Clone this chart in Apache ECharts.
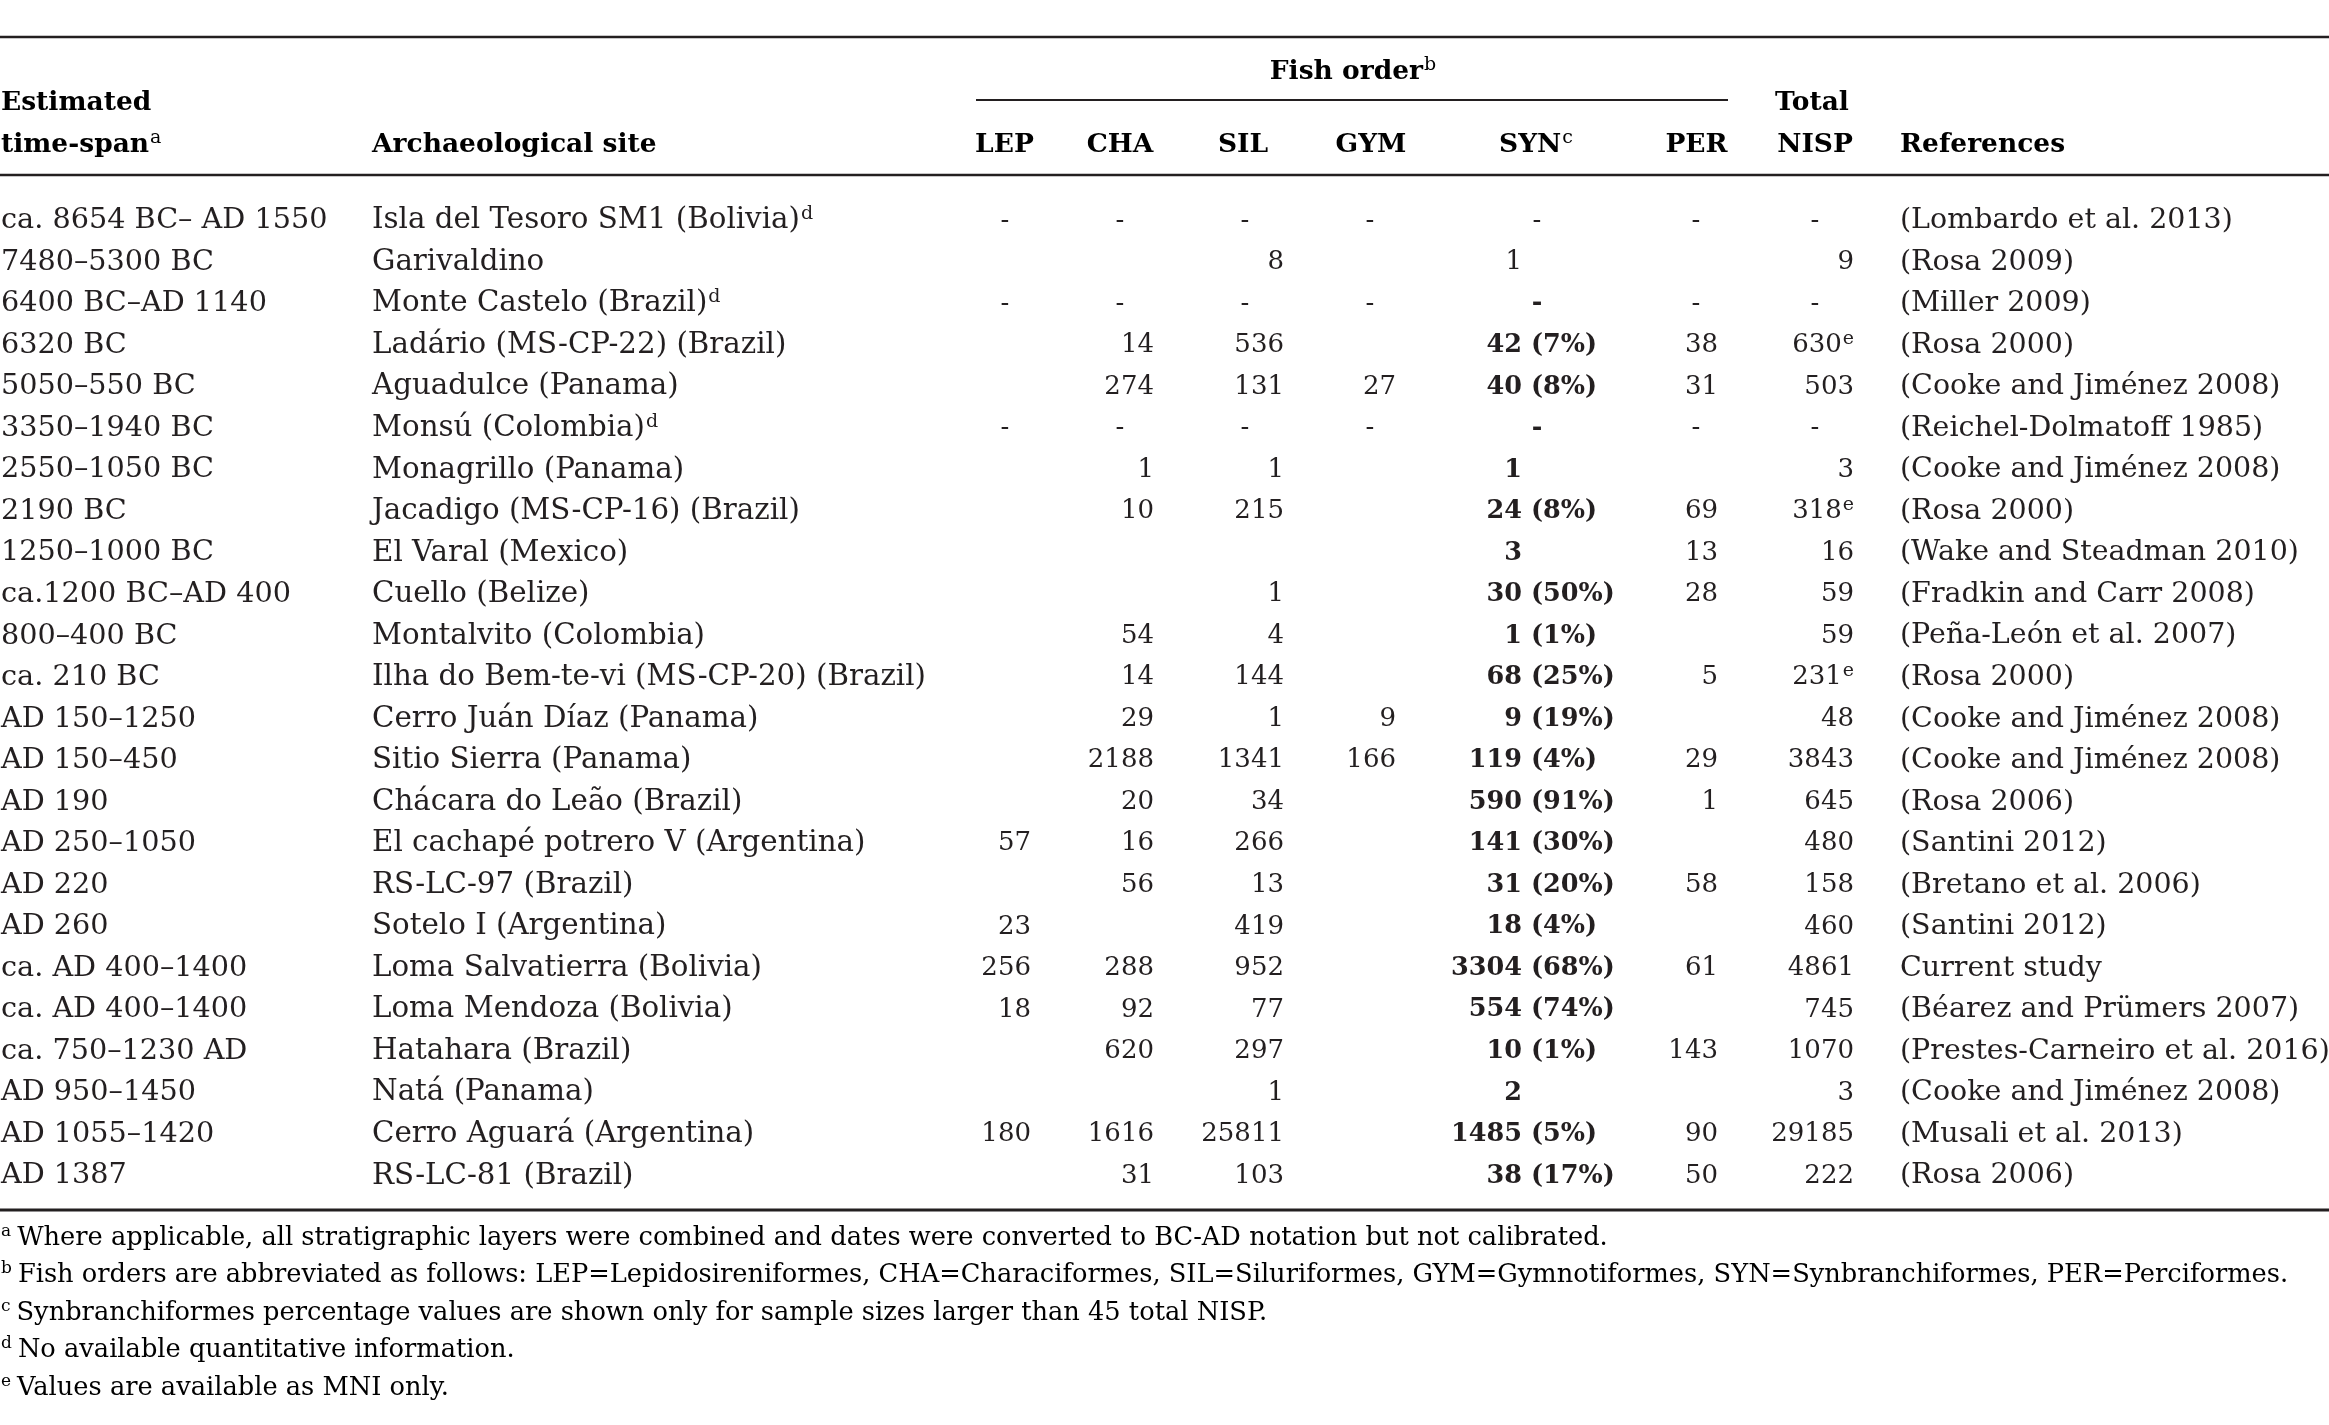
<!DOCTYPE html>
<html><head><meta charset="utf-8">
<script src="https://cdn.jsdelivr.net/npm/echarts@6/dist/echarts.min.js"></script>
<style>html,body{margin:0;padding:0;background:#fff}#c{width:2329px;height:1425px}</style>
</head><body><div id="c"></div>
<script>
// ---------- DATA ----------
const timeSpans = ["ca. 8654 BC\u2013 AD 1550","7480\u20135300 BC","6400 BC\u2013AD 1140","6320 BC","5050\u2013550 BC","3350\u20131940 BC","2550\u20131050 BC","2190 BC","1250\u20131000 BC","ca.1200 BC\u2013AD 400","800\u2013400 BC","ca. 210 BC","AD 150\u20131250","AD 150\u2013450","AD 190","AD 250\u20131050","AD 220","AD 260","ca. AD 400\u20131400","ca. AD 400\u20131400","ca. 750\u20131230 AD","AD 950\u20131450","AD 1055\u20131420","AD 1387"];
const sites = ["Isla del Tesoro SM1 (Bolivia)","Garivaldino","Monte Castelo (Brazil)","Lad\u00e1rio (MS-CP-22) (Brazil)","Aguadulce (Panama)","Mons\u00fa (Colombia)","Monagrillo (Panama)","Jacadigo (MS-CP-16) (Brazil)","El Varal (Mexico)","Cuello (Belize)","Montalvito (Colombia)","Ilha do Bem-te-vi (MS-CP-20) (Brazil)","Cerro Ju\u00e1n D\u00edaz (Panama)","Sitio Sierra (Panama)","Ch\u00e1cara do Le\u00e3o (Brazil)","El cachap\u00e9 potrero V (Argentina)","RS-LC-97 (Brazil)","Sotelo I (Argentina)","Loma Salvatierra (Bolivia)","Loma Mendoza (Bolivia)","Hatahara (Brazil)","Nat\u00e1 (Panama)","Cerro Aguar\u00e1 (Argentina)","RS-LC-81 (Brazil)"];
const siteNotes = ["d","","d","","","d","","","","","","","","","","","","","","","","","",""];
const lep = ["-",null,"-",null,null,"-",null,null,null,null,null,null,null,null,null,57,null,23,256,18,null,null,180,null];
const cha = ["-",null,"-",14,274,"-",1,10,null,null,54,14,29,2188,20,16,56,null,288,92,620,null,1616,31];
const sil = ["-",8,"-",536,131,"-",1,215,null,1,4,144,1,1341,34,266,13,419,952,77,297,1,25811,103];
const gym = ["-",null,"-",null,27,"-",null,null,null,null,null,null,9,166,null,null,null,null,null,null,null,null,null,null];
const syn = ["-",1,"-",42,40,"-",1,24,3,30,1,68,9,119,590,141,31,18,3304,554,10,2,1485,38];
const synPct = [null,null,null,7,8,null,null,8,null,50,1,25,19,4,91,30,20,4,68,74,1,null,5,17];
const per = ["-",null,"-",38,31,"-",null,69,13,28,null,5,null,29,1,null,58,null,61,null,143,null,90,50];
const totalNisp = ["-",9,"-",630,503,"-",3,318,16,59,59,231,48,3843,645,480,158,460,4861,745,1070,3,29185,222];
const totalNotes = ["","","","e","","","","e","","","","e","","","","","","","","","","","",""];
const references = ["(Lombardo et al. 2013)","(Rosa 2009)","(Miller 2009)","(Rosa 2000)","(Cooke and Jim\u00e9nez 2008)","(Reichel-Dolmatoff 1985)","(Cooke and Jim\u00e9nez 2008)","(Rosa 2000)","(Wake and Steadman 2010)","(Fradkin and Carr 2008)","(Pe\u00f1a-Le\u00f3n et al. 2007)","(Rosa 2000)","(Cooke and Jim\u00e9nez 2008)","(Cooke and Jim\u00e9nez 2008)","(Rosa 2006)","(Santini 2012)","(Bretano et al. 2006)","(Santini 2012)","Current study","(B\u00e9arez and Pr\u00fcmers 2007)","(Prestes-Carneiro et al. 2016)","(Cooke and Jim\u00e9nez 2008)","(Musali et al. 2013)","(Rosa 2006)"];
const footnoteMarks = ["a","b","c","d","e"];
const footnotes = [
 "Where applicable, all stratigraphic layers were combined and dates were converted to BC-AD notation but not calibrated.",
 "Fish orders are abbreviated as follows: LEP=Lepidosireniformes, CHA=Characiformes, SIL=Siluriformes, GYM=Gymnotiformes, SYN=Synbranchiformes, PER=Perciformes.",
 "Synbranchiformes percentage values are shown only for sample sizes larger than 45 total NISP.",
 "No available quantitative information.",
 "Values are available as MNI only."
];

// ---------- STYLE / LAYOUT ----------
const FONT = 'DejaVu Serif';
const INK = '#231f20';
const LH = 32;
const ROW_TOP = 200, ROW_H = 996.7;
const synPlainRows = [0, 1];

const rich = {
  t: {fontFamily: FONT, fontSize: 28.7, color: INK, lineHeight: LH},
  n: {fontFamily: FONT, fontSize: 29.3, color: INK, lineHeight: LH},
  r: {fontFamily: FONT, fontSize: 28.5, color: INK, lineHeight: LH},
  d: {fontFamily: FONT, fontSize: 26, color: INK, lineHeight: LH},
  b: {fontFamily: FONT, fontSize: 25.5, color: INK, fontWeight: 'bold', lineHeight: LH},
  h: {fontFamily: FONT, fontSize: 26.5, color: INK, fontWeight: 'bold', lineHeight: LH},
  s: {fontFamily: FONT, fontSize: 19, color: INK, verticalAlign: 'top', lineHeight: LH, padding: [0,0,0,1]}
};

// column definitions: anchor x, alignment, optional dash centre
const columns = [
  {values: timeSpans, anchor: 1, align: 'left', fmt: (v, i) => '{t|' + v + '}'},
  {values: sites, anchor: 372, align: 'left', fmt: (v, i) => '{n|' + v + '}' + (siteNotes[i] ? '{s|' + siteNotes[i] + '}' : '')},
  {values: lep, anchor: 1031, dash: 1005, align: 'right'},
  {values: cha, anchor: 1154, dash: 1120, align: 'right'},
  {values: sil, anchor: 1284, dash: 1245, align: 'right'},
  {values: gym, anchor: 1396, dash: 1370, align: 'right'},
  {values: syn, anchor: 1522, dash: 1537, align: 'right', bold: true},
  {values: synPct, anchor: 1531, align: 'left', bold: true, fmt: (v, i) => '{b|(' + v + '%)}'},
  {values: per, anchor: 1718, dash: 1696, align: 'right'},
  {values: totalNisp, anchor: 1854, dash: 1815, align: 'right', fmt: (v, i) => '{d|' + v + '}' + (totalNotes[i] ? '{s|' + totalNotes[i] + '}' : '')},
  {values: references, anchor: 1900, align: 'left', fmt: (v, i) => '{r|' + v + '}'}
];

const grids = [], xAxes = [], yAxes = [], series = [];
columns.forEach((col, ci) => {
  grids.push({left: col.anchor - 1, width: 2, top: ROW_TOP, height: ROW_H, containLabel: false});
  xAxes.push({type: 'category', data: ['c' + ci], gridIndex: ci, show: false});
  yAxes.push({type: 'category', data: sites.map((s, i) => 'r' + i), inverse: true, gridIndex: ci, show: false});
  const data = [];
  col.values.forEach((v, i) => {
    if (v === null || v === undefined || v === '') return;
    const bold = col.bold && !(ci === 6 && synPlainRows.includes(i));
    const tag = bold ? 'b' : 'd';
    const item = {value: [0, i]};
    let text;
    if (v === '-') {
      text = '{' + tag + '|-}';
      item.label = {align: 'center', offset: [col.dash - col.anchor, 0]};
    } else if (col.fmt) {
      text = col.fmt(v, i);
    } else {
      text = '{' + tag + '|' + v + '}';
    }
    item.txt = text;
    data.push(item);
  });
  series.push({
    type: 'scatter', xAxisIndex: ci, yAxisIndex: ci, symbolSize: 0,
    itemStyle: {color: 'rgba(0,0,0,0)', opacity: 1}, silent: true, animation: false,
    data: data,
    label: {show: true, position: 'inside', align: col.align, verticalAlign: 'middle', opacity: 1,
      formatter: p => p.data.txt, rich: rich}
  });
});

// header + rules + footnotes as graphic
const hdr = (text, x, y, align) => ({type: 'text', x: x, y: y, silent: true,
  style: {text: text, rich: rich, textAlign: align || 'center', textVerticalAlign: 'middle'}});
const rule = (x1, x2, y, w) => ({type: 'line', silent: true, shape: {x1: x1, y1: y, x2: x2, y2: y}, style: {stroke: INK, lineWidth: w}});

const graphics = [
  rule(0, 2329, 37, 2.5),
  rule(976, 1728, 100, 2),
  rule(0, 2329, 175, 2.5),
  rule(0, 2329, 1210, 3),
  hdr('{h|Estimated}', 1, 103, 'left'),
  hdr('{h|time-span}{s|a}', 1, 145, 'left'),
  hdr('{h|Archaeological site}', 372, 145, 'left'),
  hdr('{h|Fish order}{s|b}', 1353, 72),
  hdr('{h|LEP}', 1004.5, 145),
  hdr('{h|CHA}', 1120, 145),
  hdr('{h|SIL}', 1243, 145),
  hdr('{h|GYM}', 1371, 145),
  hdr('{h|SYN}{s|c}', 1536, 145),
  hdr('{h|PER}', 1696.5, 145),
  hdr('{h|Total}', 1812, 103),
  hdr('{h|NISP}', 1815, 145),
  hdr('{h|References}', 1900, 145, 'left')
];
const fnRich = {
  f: {fontFamily: FONT, fontSize: 25.7, color: INK, lineHeight: 30},
  m: {fontFamily: FONT, fontSize: 17, color: INK, verticalAlign: 'top', lineHeight: 30, padding: [0,6,0,0]}
};
const fnY = [1238, 1275.5, 1313, 1350.5, 1388];
footnotes.forEach((t, i) => {
  graphics.push({type: 'text', x: 1, y: fnY[i], silent: true,
    style: {text: '{m|' + footnoteMarks[i] + '}{f|' + t + '}', rich: fnRich, textAlign: 'left', textVerticalAlign: 'middle'}});
});

const chart = echarts.init(document.getElementById('c'), null, {renderer: 'canvas'});
chart.setOption({
  animation: false,
  backgroundColor: '#ffffff',
  grid: grids, xAxis: xAxes, yAxis: yAxes, series: series,
  graphic: graphics
});
</script></body></html>
